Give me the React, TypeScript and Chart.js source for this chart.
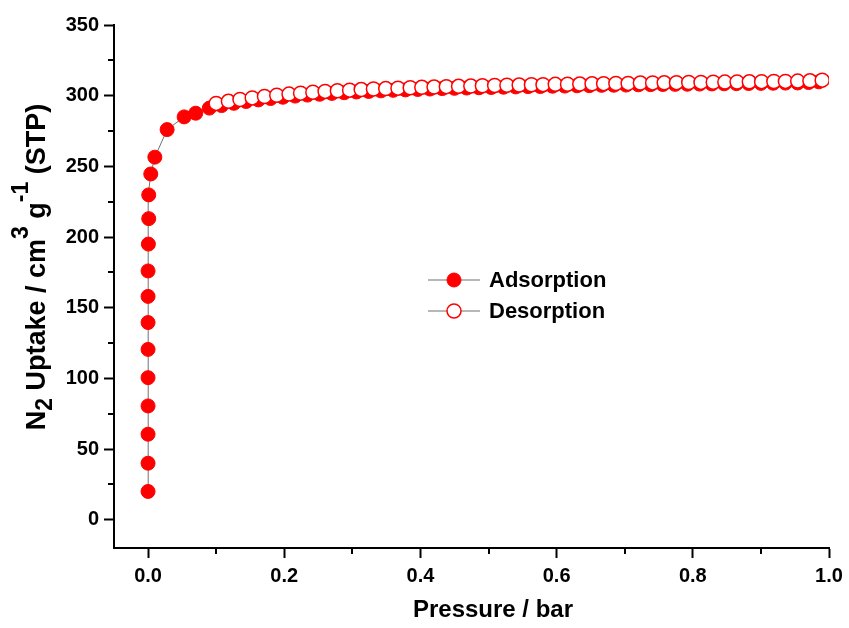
import React, { useEffect, useRef } from 'react';
import { Chart, registerables } from 'chart.js';

Chart.register(...registerables);

// ---- data ----
const adsorptionX = [
  0.0, 0.0, 0.0, 0.0, 0.0, 0.0, 0.0, 0.0, 0.0, 0.0005, 0.001, 0.001, 0.004, 0.010, 0.028, 0.053, 0.070, 0.090,
  0.108, 0.126, 0.144, 0.162, 0.180, 0.198, 0.216, 0.234, 0.252, 0.270, 0.288, 0.306, 0.324, 0.342, 0.360, 0.378,
  0.396, 0.414, 0.432, 0.450, 0.468, 0.486, 0.504, 0.522, 0.540, 0.558, 0.576, 0.594, 0.612, 0.630, 0.648, 0.666,
  0.684, 0.702, 0.720, 0.738, 0.756, 0.774, 0.792, 0.810, 0.828, 0.846, 0.864, 0.882, 0.900, 0.918, 0.936, 0.954,
  0.970, 0.985,
];
const adsorptionY = [
  20, 40, 60.5, 80.5, 100.5, 120.5, 139.5, 158, 176, 195, 213, 229.8, 244.6, 256.5, 276, 285, 287.6, 291.2,
  293.0, 294.6, 295.9, 297.0, 298.0, 298.9, 299.7, 300.4, 301.0, 301.6, 302.1, 302.6, 303.0, 303.4, 303.8, 304.1,
  304.4, 304.7, 305.0, 305.2, 305.4, 305.6, 305.8, 306.0, 306.2, 306.4, 306.5, 306.7, 306.8, 307.0, 307.1, 307.3,
  307.4, 307.5, 307.7, 307.8, 307.9, 308.0, 308.1, 308.2, 308.3, 308.4, 308.5, 308.6, 308.7, 308.8, 308.9, 309.0,
  309.3, 309.8,
];
const desorptionX = [
  0.100, 0.118, 0.135, 0.153, 0.171, 0.189, 0.207, 0.224, 0.242, 0.260, 0.278, 0.296, 0.313, 0.331, 0.349, 0.367,
  0.385, 0.402, 0.420, 0.438, 0.456, 0.474, 0.491, 0.509, 0.527, 0.545, 0.563, 0.580, 0.598, 0.616, 0.634, 0.652,
  0.669, 0.687, 0.705, 0.723, 0.741, 0.758, 0.776, 0.794, 0.812, 0.830, 0.847, 0.865, 0.883, 0.901, 0.919, 0.936,
  0.954, 0.972, 0.990,
];
const desorptionY = [
  294.5, 296.0, 297.3, 298.4, 299.4, 300.3, 301.1, 301.8, 302.4, 303.0, 303.5, 303.9, 304.3, 304.7, 305.0, 305.3,
  305.6, 305.9, 306.1, 306.4, 306.6, 306.8, 307.0, 307.2, 307.4, 307.5, 307.7, 307.8, 308.0, 308.1, 308.2, 308.4,
  308.5, 308.6, 308.7, 308.9, 309.0, 309.1, 309.2, 309.3, 309.4, 309.5, 309.6, 309.7, 309.8, 309.9, 310.0, 310.1,
  310.3, 310.5, 311.0,
];
const xMajorTicks = [0, 0.2, 0.4, 0.6, 0.8, 1.0];
const xTickLabels = ['0.0', '0.2', '0.4', '0.6', '0.8', '1.0'];
const xMinorTicks = [0.1, 0.3, 0.5, 0.7, 0.9];
const yMajorTicks = [0, 50, 100, 150, 200, 250, 300, 350];
const yTickLabels = ['0', '50', '100', '150', '200', '250', '300', '350'];
const yMinorTicks = [25, 75, 125, 175, 225, 275, 325];
const xTitle = 'Pressure / bar';
const yTitleParts: { text: string; kind: 'n' | 'sub' | 'sup' }[] = [
  { text: 'N', kind: 'n' },
  { text: '2', kind: 'sub' },
  { text: ' Uptake / cm', kind: 'n' },
  { text: '3', kind: 'sup' },
  { text: ' g', kind: 'n' },
  { text: '-1', kind: 'sup' },
  { text: ' (STP)', kind: 'n' },
];
const seriesNames = ['Adsorption', 'Desorption'];

const FONT = "'Liberation Sans', Arial, sans-serif";
const RED = '#ff0000';
const LINE = '#707070';

const decorPlugin = {
  id: 'decor',
  afterDraw(chart: any) {
    const ctx = chart.ctx;
    const xs = chart.scales.x;
    const ys = chart.scales.y;
    const area = chart.chartArea;
    ctx.save();
    // minor ticks
    ctx.strokeStyle = '#000';
    ctx.lineWidth = 2;
    ctx.beginPath();
    for (const v of yMinorTicks) {
      const p = Math.round(ys.getPixelForValue(v));
      ctx.moveTo(area.left - 6, p);
      ctx.lineTo(area.left, p);
    }
    for (const v of xMinorTicks) {
      const p = Math.round(xs.getPixelForValue(v));
      ctx.moveTo(p, area.bottom);
      ctx.lineTo(p, area.bottom + 6);
    }
    ctx.stroke();

    // x title
    ctx.fillStyle = '#000';
    ctx.font = `bold 24px ${FONT}`;
    ctx.textAlign = 'center';
    ctx.textBaseline = 'middle';
    ctx.fillText(xTitle, 493, 610);

    // y title
    const base = 27;
    const small = 23;
    const fontFor = (k: string) => `bold ${k === 'n' ? base : small}px ${FONT}`;
    let total = 0;
    for (const p of yTitleParts) {
      ctx.font = fontFor(p.kind);
      total += ctx.measureText(p.text).width;
    }
    ctx.translate(45, 267);
    ctx.rotate(-Math.PI / 2);
    ctx.textAlign = 'left';
    ctx.textBaseline = 'alphabetic';
    let cx = -total / 2;
    for (const p of yTitleParts) {
      ctx.font = fontFor(p.kind);
      const dy = p.kind === 'sub' ? 7 : p.kind === 'sup' ? -17 : 0;
      ctx.fillText(p.text, cx, dy);
      cx += ctx.measureText(p.text).width;
    }
    ctx.restore();

    // legend
    ctx.save();
    const rows = [280, 311];
    rows.forEach((ry, i) => {
      ctx.strokeStyle = LINE;
      ctx.lineWidth = 1.2;
      ctx.beginPath();
      ctx.moveTo(428, ry);
      ctx.lineTo(480, ry);
      ctx.stroke();
      ctx.beginPath();
      ctx.arc(454, ry, 7, 0, Math.PI * 2);
      ctx.fillStyle = i === 0 ? RED : '#fff';
      ctx.fill();
      ctx.strokeStyle = RED;
      ctx.lineWidth = i === 0 ? 1 : 1.5;
      ctx.stroke();
      ctx.fillStyle = '#000';
      ctx.font = `bold 22px ${FONT}`;
      ctx.textAlign = 'left';
      ctx.textBaseline = 'middle';
      ctx.fillText(seriesNames[i], 489, ry + 1);
    });
    ctx.restore();
  },
};

export default function App() {
  const ref = useRef<HTMLCanvasElement>(null);
  useEffect(() => {
    if (!ref.current) return;
    const chart = new Chart(ref.current, {
      type: 'scatter',
      data: {
        datasets: [
          {
            label: seriesNames[0],
            data: adsorptionX.map((x, i) => ({ x, y: adsorptionY[i] })),
            showLine: true,
            borderColor: LINE,
            borderWidth: 1,
            pointRadius: 7,
            pointBackgroundColor: RED,
            pointBorderColor: RED,
            pointBorderWidth: 1,
            order: 1,
          },
          {
            label: seriesNames[1],
            data: desorptionX.map((x, i) => ({ x, y: desorptionY[i] })),
            showLine: true,
            borderColor: LINE,
            borderWidth: 1,
            pointRadius: 7,
            pointBackgroundColor: '#ffffff',
            pointBorderColor: RED,
            pointBorderWidth: 1.5,
            order: 0,
          },
        ],
      },
      options: {
        animation: false,
        responsive: false,
        layout: { padding: { left: 0, right: 20, top: 25, bottom: 0 } },
        plugins: { legend: { display: false }, tooltip: { enabled: false } },
        scales: {
          x: {
            type: 'linear',
            min: -0.05,
            max: 1.0,
            afterBuildTicks: (s: any) => {
              s.ticks = xMajorTicks.map((v) => ({ value: v }));
            },
            afterFit: (s: any) => {
              s.height = 80;
            },
            ticks: {
              autoSkip: false,
              maxRotation: 0,
              padding: 6,
              color: '#000',
              font: { family: FONT, size: 20, weight: 'bold' },
              callback: (_v: any, i: number) => xTickLabels[i],
            },
            grid: { drawOnChartArea: false, drawTicks: true, tickLength: 10, tickWidth: 2, tickColor: '#000' },
            border: { display: true, color: '#000', width: 2 },
          },
          y: {
            type: 'linear',
            min: -20,
            max: 350,
            afterBuildTicks: (s: any) => {
              s.ticks = yMajorTicks.map((v) => ({ value: v }));
            },
            afterFit: (s: any) => {
              s.width = 114;
            },
            ticks: {
              autoSkip: false,
              padding: 5,
              color: '#000',
              font: { family: FONT, size: 20, weight: 'bold' },
              callback: (_v: any, i: number) => yTickLabels[i],
            },
            grid: { drawOnChartArea: false, drawTicks: true, tickLength: 10, tickWidth: 2, tickColor: '#000' },
            border: { display: true, color: '#000', width: 2 },
          },
        },
      },
      plugins: [decorPlugin],
    } as any);
    return () => chart.destroy();
  }, []);
  return (
    <div style={{ position: 'fixed', left: 0, top: 0, width: 849, height: 628, background: '#fff' }}>
      <canvas ref={ref} width={849} height={628} style={{ display: 'block' }} />
    </div>
  );
}
